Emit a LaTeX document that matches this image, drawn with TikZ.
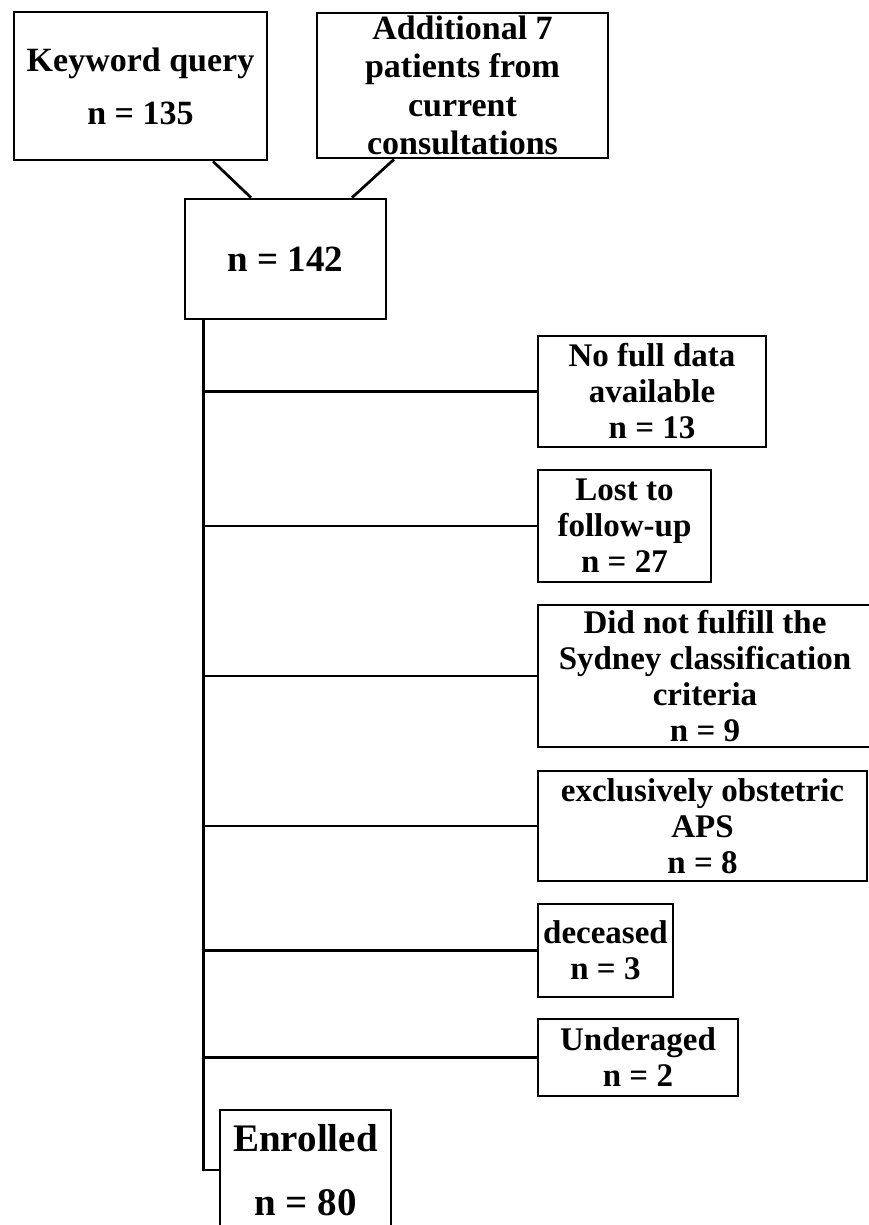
\documentclass[tikz,border=0pt]{standalone}
\usepackage{fontspec}
\setmainfont{Liberation Serif}
\usetikzlibrary{calc}
\tikzset{
  box/.style={draw, line width=1.35pt, inner sep=0pt, align=center},
  small/.style={font=\fontsize{16.5}{18}\selectfont\bfseries},
  conn/.style={line width=1.35pt}
}
\begin{document}
\begin{tikzpicture}[x=0.5pt,y=-0.5pt]
\useasboundingbox (0,0) rectangle (868,1225);
% top boxes
\node[box, minimum width=126.5pt, minimum height=74pt,
      font=\fontsize{17}{26.5}\selectfont\bfseries] (kw) at (140.5,86)
  {Keyword query\\n = 135};
\node[box, minimum width=145.5pt, minimum height=72.5pt,
      font=\fontsize{17}{19.25}\selectfont\bfseries] (add) at (462.5,85.5)
  {Additional 7\\patients from\\current\\consultations};
\node[box, minimum width=100.5pt, minimum height=60pt,
      font=\fontsize{18.5}{20}\selectfont\bfseries] (n142) at (285.5,259)
  {n = 142};
% connectors into n = 142
\draw[conn] ($(kw.south)+(72.5,0)$) -- ($(n142.north)+(-34.5,0)$);
\draw[conn] ($(add.south)+(-68.5,0)$) -- ($(n142.north)+(66.5,0)$);
% exclusion boxes
\node[box, small, minimum width=114pt, minimum height=55.5pt] (b1) at (652,391.5)
  {No full data\\available\\n = 13};
\node[box, small, minimum width=86.5pt, minimum height=56pt] (b2) at (624.5,526)
  {Lost to\\follow-up\\n = 27};
\node[box, small, minimum width=167pt, minimum height=71pt] (b3) at (705,676)
  {Did not fulfill the\\Sydney classification\\criteria\\n = 9};
\node[box, small, minimum width=164.5pt, minimum height=55pt] (b4) at (702.5,826)
  {exclusively obstetric\\APS\\n = 8};
\node[box, small, minimum width=67.5pt, minimum height=46.5pt] (b5) at (605.5,950.5)
  {deceased\\n = 3};
\node[box, small, minimum width=100pt, minimum height=38.5pt] (b6) at (638,1057.5)
  {Underaged\\n = 2};
% enrolled
\node[box, minimum width=85.5pt, minimum height=60pt,
      font=\fontsize{19.5}{32}\selectfont\bfseries] (enr) at (305.5,1170)
  {Enrolled\\n = 80};
% trunk and branches
\coordinate (t) at ($(n142.south west)+(20,0)$);
\draw[conn] (t) |- (enr.west);
\foreach \b in {b1,b2,b3,b4,b5,b6}
  \draw[conn] (t |- \b.west) -- (\b.west);
\end{tikzpicture}
\end{document}
